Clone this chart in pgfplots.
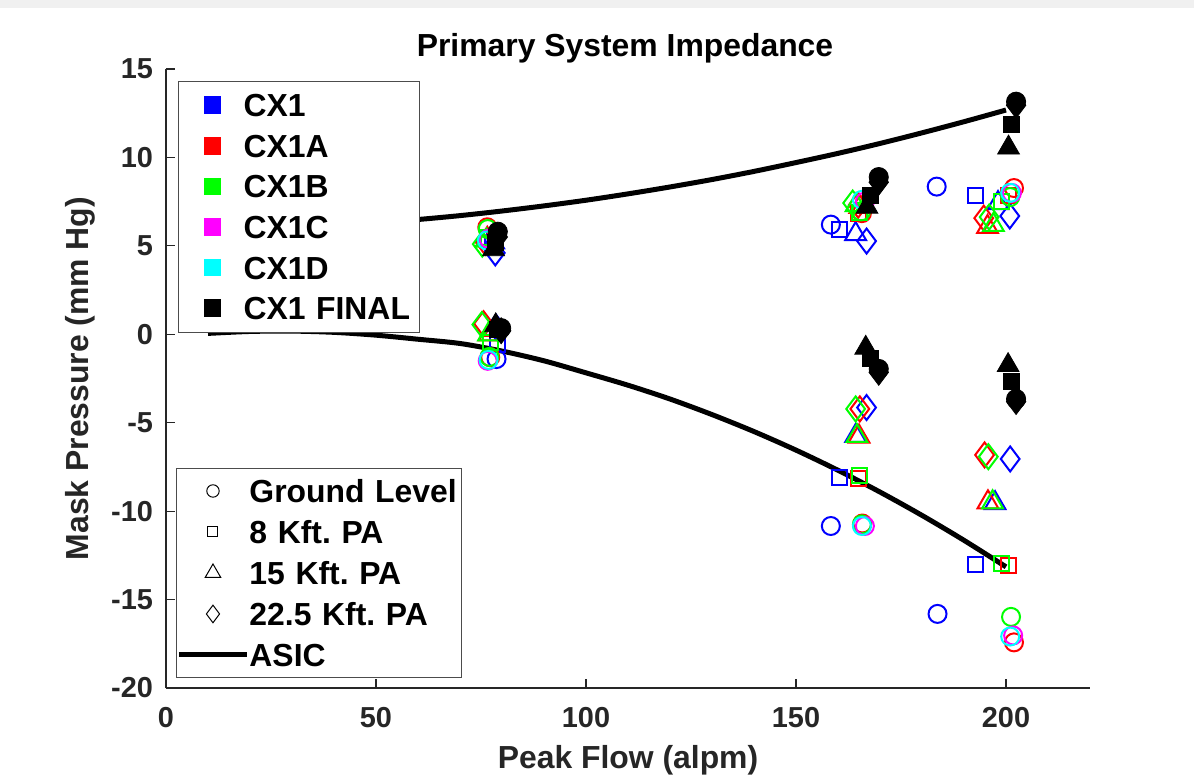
\documentclass[border=0pt]{standalone}
\usepackage{fontspec}
\setmainfont{Liberation Sans}
\usepackage{graphicx}
\usepackage{pgfplots}
\pgfplotsset{compat=1.18}
\definecolor{mblue}{rgb}{0,0,1}
\definecolor{mred}{rgb}{1,0,0}
\definecolor{mgreen}{rgb}{0,1,0}
\definecolor{mmag}{rgb}{1,0,1}
\definecolor{mcyan}{rgb}{0,1,1}
\pgfplotsset{
 gl/.style={only marks, mark=o, mark size=4.5bp, mark options={line width=1bp, solid}},
 ka/.style={only marks, mark=square, mark size=3.75bp, mark options={line width=1bp, solid}},
 kb/.style={only marks, mark=triangle, mark size=6bp, mark options={line width=1bp, solid}},
 kc/.style={only marks, mark=diamond, mark size=6.25bp, mark options={line width=1bp, solid}},
 fgl/.style={only marks, mark=*, mark size=4.8bp, mark options={fill=black, draw=black}},
 fka/.style={only marks, mark=square*, mark size=4bp, mark options={fill=black, draw=black}},
 fkb/.style={only marks, mark=triangle*, mark size=6.3bp, mark options={fill=black, draw=black}},
 fkc/.style={only marks, mark=diamond*, mark size=6.5bp, mark options={fill=black, draw=black}},
 legA/.style={legend image code/.code={\path[draw=none,fill=none] (0bp,0bp) rectangle (32.5bp,0bp); \path[##1,draw=none] plot[only marks] coordinates {(17bp,0bp)};}},
 legB/.style={legend image code/.code={\path[draw=none,fill=none] (0bp,0bp) rectangle (33.5bp,0bp); \path[##1,draw=none] plot[only marks] coordinates {(16.5bp,0bp)};}},
 asicleg/.style={legend image code/.code={\path[draw=none,fill=none] (0bp,0bp) rectangle (33.5bp,0bp); \draw[##1] (-0.5bp,0bp) -- (33.5bp,0bp);}},
}
\begin{document}
\frenchspacing
\begin{tikzpicture}
\path[use as bounding box] (-83bp,-45bp) rectangle (514bp,344bp);
\fill[white] (-83bp,-45bp) rectangle (514bp,344bp);
\fill[black!6] (-83bp,340bp) rectangle (514bp,344bp);
\begin{axis}[at={(0,0)}, anchor=south west, scale only axis,
 width=462bp, height=309.5bp,
 xmin=0, xmax=220, ymin=-20, ymax=15,
 axis lines=left, axis line style={-, black!85, line width=0.6bp},
 tick align=inside, major tick length=4.5bp, tick style={black!85, line width=0.6bp},
 xtick={0,50,100,150,200}, xticklabels={0,50,100,150,200},
 ytick={-20,-15,-10,-5,0,5,10,15}, yticklabels={-20,-15,-10,-5,0,5,10,15},
 ticklabel style={font=\fontsize{14.5}{17}\selectfont\bfseries, text=black!85},
 xticklabel style={yshift=-6bp},
 yticklabel style={xshift=-3bp},
 xlabel={Peak Flow (alpm)}, ylabel={Mask Pressure (mm Hg)},
 xlabel style={at={(axis description cs:0.5,-0.1163)}, anchor=center, font=\fontsize{16}{19}\selectfont\bfseries, text=black!85},
 ylabel style={at={(axis description cs:-0.0931,0.5)}, anchor=center, font=\fontsize{16}{19}\selectfont\bfseries, text=black!85},
 title={Primary System Impedance},
 title style={at={(axis description cs:0.4968,1.0146)}, anchor=center, font=\fontsize{16}{19}\selectfont\bfseries},
 legend style={at={(axis description cs:0.013,0.981)}, anchor=north west, draw=black!70, line width=0.5bp, fill=white,
   inner xsep=0bp, inner ysep=1.85bp, row sep=0bp, column sep=0bp,
   font=\fontsize{16}{19}\selectfont\bfseries,
   nodes={inner xsep=0bp, inner ysep=0bp, text height=15.85bp, text depth=4.45bp, text width=88bp, align=left}},
 legend cell align=left,
]
% CX1 (blue)
\addplot[mblue, gl, forget plot] coordinates {(78.5,5.6) (158.3,6.2) (183.5,8.35) (78.7,-1.4) (158.3,-10.84) (183.7,-15.81)};
\addplot[mblue, ka, forget plot] coordinates {(77.8,5.05) (160.3,5.9) (192.8,7.82) (78.9,-0.55) (160.3,-8.12) (192.8,-13.04)};
\addplot[mblue, kb, forget plot] coordinates {(78.0,5.2) (164.2,5.67) (198.1,7.42) (78.2,0.3) (164.2,-5.75) (197.4,-9.55)};
\addplot[mblue, kc, forget plot] coordinates {(78.4,4.6) (166.8,5.27) (200.9,6.69) (78.6,0.4) (166.8,-4.14) (201.0,-7.05)};
% CX1A (red)
\addplot[mred, gl, forget plot] coordinates {(76.5,6.05) (165.7,6.85) (201.9,8.27) (77.2,-1.3) (165.8,-10.7) (201.9,-17.42)};
\addplot[mred, ka, forget plot] coordinates {(76.8,5.5) (164.9,6.85) (200.5,7.82) (77.2,-0.5) (164.9,-8.18) (200.5,-13.07)};
\addplot[mred, kb, forget plot] coordinates {(76.5,5.4) (165.2,7.2) (195.6,6.07) (77.0,0.0) (165.0,-5.78) (195.7,-9.5)};
\addplot[mred, kc, forget plot] coordinates {(76.0,5.2) (164.8,7.3) (194.7,6.57) (75.6,0.6) (165.2,-4.22) (194.9,-6.82)};
% CX1B (green)
\addplot[mgreen, gl, forget plot] coordinates {(76.6,5.95) (165.5,6.95) (201.0,7.76) (77.0,-1.28) (165.7,-10.75) (201.2,-15.98)};
\addplot[mgreen, ka, forget plot] coordinates {(76.7,5.45) (165.0,6.9) (199.0,7.48) (77.2,-0.45) (165.2,-8.0) (199.0,-12.98)};
\addplot[mgreen, kb, forget plot] coordinates {(76.3,5.3) (164.3,7.3) (197.0,6.18) (76.8,0.0) (164.5,-5.75) (196.8,-9.5)};
\addplot[mgreen, kc, forget plot] coordinates {(75.3,5.1) (163.5,7.42) (196.0,6.63) (75.2,0.55) (164.2,-4.22) (195.8,-6.92)};
% CX1C (magenta)
\addplot[mmag, gl, forget plot] coordinates {(76.8,5.4) (166.4,7.5) (201.4,7.99) (76.6,-1.5) (166.4,-10.84) (201.7,-17.03)};
% CX1D (cyan)
\addplot[mcyan, gl, forget plot] coordinates {(76.4,5.3) (165.7,7.6) (201.0,8.0) (76.8,-1.45) (165.7,-10.84) (201.0,-17.09)};
% ASIC
\addplot[black, line width=2.5bp, smooth, forget plot] coordinates {(10,5.90) (20,5.95) (30,6.03) (40,6.15) (50,6.31) (60,6.49) (70,6.71) (80,6.97) (90,7.26) (100,7.58) (110,7.94) (120,8.33) (130,8.75) (140,9.21) (150,9.71) (160,10.23) (170,10.79) (180,11.39) (190,12.02) (200,12.68)};
\addplot[black, line width=2.5bp, smooth, forget plot] coordinates {(10,0.05) (20,0.16) (30,0.18) (40,0.11) (50,-0.05) (60,-0.28) (70,-0.52) (80,-0.95) (90,-1.5) (100,-2.18) (110,-2.88) (120,-3.66) (130,-4.54) (140,-5.50) (150,-6.55) (160,-7.69) (170,-8.92) (180,-10.24) (190,-11.65) (200,-13.15)};
% CX1 FINAL (black, filled)
\addplot[black, fkb, forget plot] coordinates {(78.0,4.8) (166.9,7.2) (200.6,10.55) (78.5,0.5) (166.6,-0.77) (200.5,-1.75)};
\addplot[black, fka, forget plot] coordinates {(78.4,5.2) (167.8,7.87) (201.3,11.87) (79.0,0.3) (167.8,-1.34) (201.2,-2.64)};
\addplot[black, fkc, forget plot] coordinates {(79.0,5.5) (169.7,8.6) (202.4,12.95) (79.8,0.2) (169.7,-2.15) (202.4,-3.8)};
\addplot[black, fgl, forget plot] coordinates {(79.0,5.8) (169.7,8.89) (202.4,13.15) (79.8,0.35) (169.7,-1.96) (202.4,-3.66)};
% legend 1
\addlegendimage{legA, mblue, mark=square*, mark size=4.15bp}
\addlegendentry{CX1}
\addlegendimage{legA, mred, mark=square*, mark size=4.15bp}
\addlegendentry{CX1A}
\addlegendimage{legA, mgreen, mark=square*, mark size=4.15bp}
\addlegendentry{CX1B}
\addlegendimage{legA, mmag, mark=square*, mark size=4.15bp}
\addlegendentry{CX1C}
\addlegendimage{legA, mcyan, mark=square*, mark size=4.15bp}
\addlegendentry{CX1D}
\addlegendimage{legA, black, mark=square*, mark size=4.15bp}
\addlegendentry{CX1 FINAL}
\end{axis}
\begin{axis}[at={(0,0)}, anchor=south west, scale only axis,
 width=462bp, height=309.5bp,
 xmin=0, xmax=220, ymin=-20, ymax=15, hide axis,
 legend style={at={(axis description cs:0.0108,0.0162)}, anchor=south west, draw=black!70, line width=0.5bp, fill=white,
   inner xsep=0bp, inner ysep=1bp, row sep=0bp, column sep=0bp,
   font=\fontsize{16}{19}\selectfont\bfseries,
   nodes={inner xsep=0bp, inner ysep=0bp, text height=15.95bp, text depth=4.55bp, text width=106bp, align=left}},
 legend cell align=left,
]
\addplot[draw=none, forget plot] coordinates {(0,0)};
\addlegendimage{legB, black, line width=0.5bp, mark=o, mark size=3.1bp, mark options={draw=black, fill=none}}
\addlegendentry{Ground Level}
\addlegendimage{legB, black, line width=0.5bp, mark=square, mark size=2.5bp, mark options={draw=black, fill=none}}
\addlegendentry{8 Kft. PA}
\addlegendimage{legB, black, line width=0.5bp, mark=triangle, mark size=4.5bp, mark options={draw=black, fill=none}}
\addlegendentry{15 Kft. PA}
\addlegendimage{legB, black, line width=0.5bp, mark=diamond, mark size=4.4bp, mark options={draw=black, fill=none}}
\addlegendentry{22.5 Kft. PA}
\addlegendimage{asicleg, black, line width=2.5bp}
\addlegendentry{ASIC}
\end{axis}
\end{tikzpicture}
\end{document}
